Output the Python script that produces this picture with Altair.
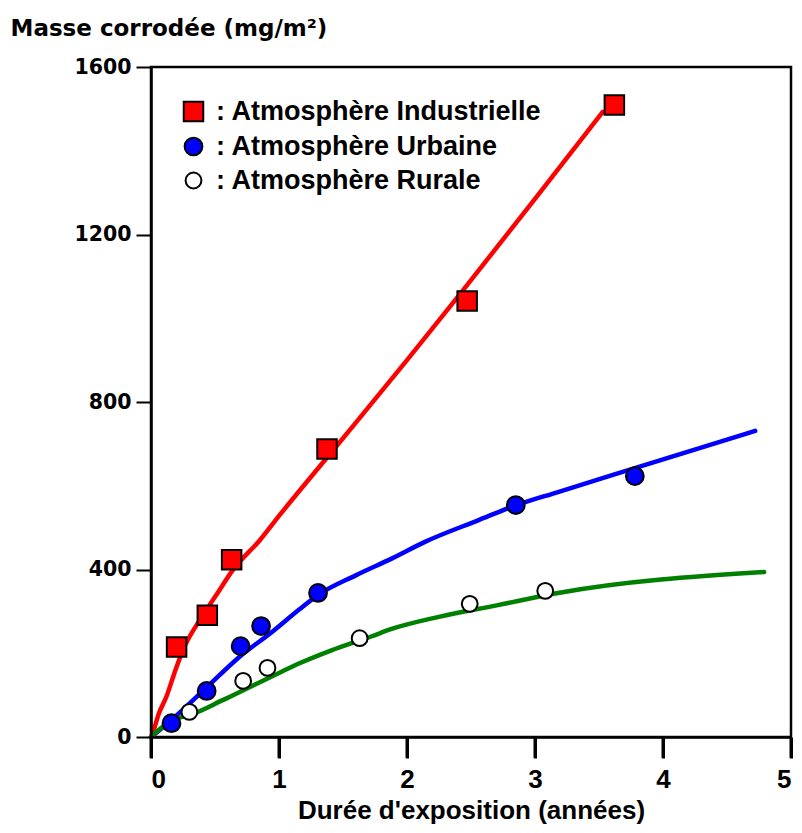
import altair as alt
import pandas as pd

series_names = ["Atmosphère Industrielle", "Atmosphère Urbaine", "Atmosphère Rurale"]
curve_names = ["Industrielle", "Urbaine", "Rurale"]

# Measured points
ind_x = [0.20, 0.44, 0.63, 1.375, 2.47, 3.62]
ind_y = [215, 291, 423, 688, 1041, 1509]
urb_x = [0.16, 0.435, 0.70, 0.86, 1.305, 2.85, 3.78]
urb_y = [33, 110, 217, 265, 344, 554, 623]
rur_x = [0.30, 0.72, 0.91, 1.63, 2.49, 3.08]
rur_y = [60, 134, 165, 236, 318, 349]

# Fitted curves
ind_line_x = [0, 0.016, 0.06, 0.12, 0.18, 0.25, 0.38, 0.51, 0.64, 0.85, 1.0, 1.45, 2.0, 2.42, 3.0, 3.53]
ind_line_y = [0, 12, 55, 96, 150, 208, 279, 339, 399, 470, 528, 695, 900, 1060, 1285, 1493]
urb_line_x = [0, 0.17, 0.43, 0.69, 0.95, 1.16, 1.31, 1.6, 1.88, 2.14, 2.56, 2.84, 3.18, 3.78, 4.72]
urb_line_y = [0, 43, 117, 191, 252, 305, 340, 386, 426, 466, 518, 552, 585, 642, 731]
rur_line_x = [0, 0.17, 0.30, 0.56, 0.77, 1.0, 1.16, 1.41, 1.72, 1.88, 2.25, 2.71, 3.18, 4.79]
rur_line_y = [0, 41, 52, 88, 119, 153, 176, 207, 240, 258, 287, 315, 344, 394]

x_ticks = [0, 1, 2, 3, 4, 5]
y_ticks = [0, 400, 800, 1200, 1600]

pts = pd.concat([
    pd.DataFrame({"serie": series_names[0], "x": ind_x, "y": ind_y}),
    pd.DataFrame({"serie": series_names[1], "x": urb_x, "y": urb_y}),
    pd.DataFrame({"serie": series_names[2], "x": rur_x, "y": rur_y}),
])
lines = pd.concat([
    pd.DataFrame({"courbe": curve_names[0], "x": ind_line_x, "y": ind_line_y, "o": range(len(ind_line_x))}),
    pd.DataFrame({"courbe": curve_names[1], "x": urb_line_x, "y": urb_line_y, "o": range(len(urb_line_x))}),
    pd.DataFrame({"courbe": curve_names[2], "x": rur_line_x, "y": rur_line_y, "o": range(len(rur_line_x))}),
])
ticks_df = pd.DataFrame({"x": x_ticks})

FONT = "Liberation Sans"
WIDE = "DejaVu Sans"
PLOT_W, PLOT_H = 640, 670
X_TICK_LEN = 21

x_axis = alt.Axis(values=x_ticks, format="d", title="Durée d'exposition (années)",
                  grid=False, ticks=True, tickSize=X_TICK_LEN, tickWidth=3, tickColor="black",
                  tickOpacity=1, domainColor="black", domainWidth=2.5, zindex=1,
                  labelFont=FONT, labelFontSize=26, labelFontWeight="bold",
                  labelColor="black", labelPadding=8, labelFlush=True,
                  titleFont=FONT, titleFontSize=26, titleFontWeight="bold",
                  titleColor="black", titlePadding=5)
y_axis = alt.Axis(values=y_ticks, format="d", title="Masse corrodée (mg/m²)",
                  grid=False, ticks=True, tickSize=15, tickWidth=2, tickColor="black",
                  domainColor="black", domainWidth=2.5, zindex=1,
                  labelFont=WIDE, labelFontSize=20.5, labelFontWeight="bold",
                  labelColor="black", labelPadding=5, labelFlush=False,
                  titleFont=WIDE, titleFontSize=23, titleFontWeight="bold",
                  titleColor="black", titleAngle=0, titleAlign="left",
                  titleBaseline="middle", titleX=-141, titleY=-39)

x_scale = alt.Scale(domain=[0, 5], nice=False, zero=False)
y_scale = alt.Scale(domain=[0, 1600], nice=False)

line_layer = alt.Chart(lines).mark_line(strokeWidth=4.5, strokeCap="round",
                                        interpolate="monotone").encode(
    x=alt.X("x:Q", scale=x_scale, axis=x_axis),
    y=alt.Y("y:Q", scale=y_scale, axis=y_axis),
    stroke=alt.Stroke("courbe:N", scale=alt.Scale(domain=curve_names,
                                                  range=["#ff0000", "#0000ff", "#008000"]),
                      legend=None),
    order="o:Q",
)

# explicit x tick marks below the axis
tick_layer = alt.Chart(ticks_df).mark_rule(color="black", strokeWidth=3, clip=False).encode(
    x=alt.X("x:Q", scale=x_scale, axis=x_axis),
    y=alt.value(PLOT_H + 1),
    y2=alt.value(PLOT_H + X_TICK_LEN),
)

legend = alt.Legend(orient="none", legendX=29, legendY=31, padding=0,
                    labelExpr="': ' + datum.label", labelFont=FONT, labelFontSize=27,
                    labelFontWeight="bold", labelColor="black", labelOffset=9,
                    labelLimit=600, symbolStrokeWidth=2, symbolOpacity=1,
                    rowPadding=6)

point_layer = alt.Chart(pts).mark_point(filled=True, stroke="black", strokeWidth=2,
                                        opacity=1).encode(
    x=alt.X("x:Q", scale=x_scale, axis=x_axis),
    y=alt.Y("y:Q", scale=y_scale, axis=y_axis),
    shape=alt.Shape("serie:N", title=None, scale=alt.Scale(domain=series_names,
                                                           range=["square", "circle", "circle"]),
                    legend=legend),
    fill=alt.Fill("serie:N", title=None, scale=alt.Scale(domain=series_names,
                                                         range=["#ff0000", "#0000ff", "#ffffff"]),
                  legend=legend),
    size=alt.Size("serie:N", title=None, scale=alt.Scale(domain=series_names, range=[380, 250, 250]),
                  legend=legend),
)

chart = alt.layer(line_layer, tick_layer, point_layer).properties(
    width=PLOT_W, height=PLOT_H,
    background="white",
    autosize=alt.AutoSizeParams(type="none"),
    padding={"left": 143, "top": 59, "right": 3, "bottom": 88},
).configure_view(stroke="black", strokeWidth=2.5)

chart.save("out.html", embed_options={"renderer": "svg", "actions": False})
